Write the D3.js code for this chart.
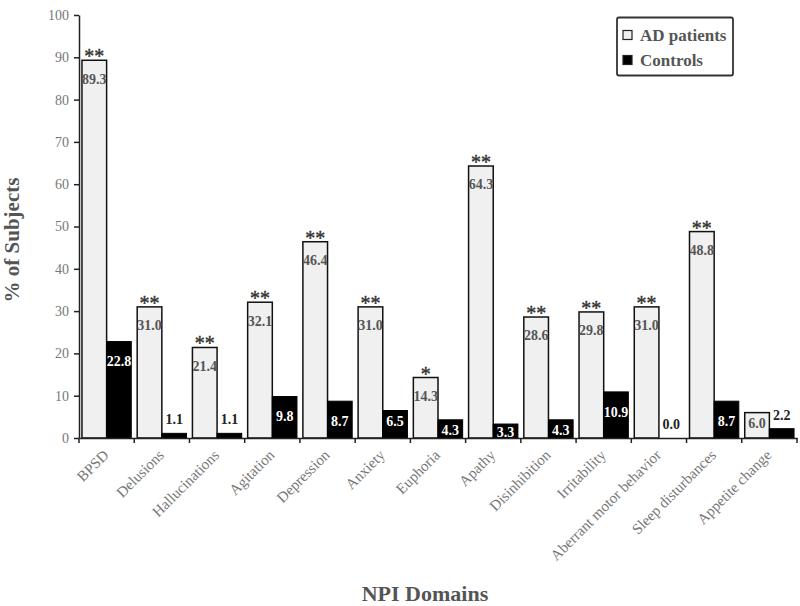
<!DOCTYPE html>
<html><head><meta charset="utf-8">
<script src="https://cdn.jsdelivr.net/npm/d3@7"></script>
<style>
body{margin:0;background:#fff;}
svg{display:block;font-family:"Liberation Serif","Times New Roman",serif;}
</style></head>
<body><svg id="chart" width="800" height="606"></svg>
<script>
const categories = ["BPSD","Delusions","Hallucinations","Agitation","Depression","Anxiety","Euphoria","Apathy","Disinhibition","Irritability","Aberrant motor behavior","Sleep disturbances","Appetite change"];
const adPatients = [89.3,31.0,21.4,32.1,46.4,31.0,14.3,64.3,28.6,29.8,31.0,48.8,6.0];
const controls = [22.8,1.1,1.1,9.8,8.7,6.5,4.3,3.3,4.3,10.9,0.0,8.7,2.2];
const significance = ["**","**","**","**","**","**","*","**","**","**","**","**",""];
const yTicks = [0,10,20,30,40,50,60,70,80,90,100];
const seriesNames = ["AD patients","Controls"];

const svg = d3.select("#chart");
const mLeft = 79, mRight = 797, mTop = 15, mBottom = 438;

const x = d3.scaleBand().domain(categories).range([mLeft, mRight]).padding(0);
const xs = d3.scaleBand().domain(seriesNames).range([0, x.bandwidth()]).paddingInner(0).paddingOuter(0.12);
const y = d3.scaleLinear().domain([0,100]).range([mBottom, mTop]);

const g = svg.append("g");
const labelY = (top, off) => Math.min(Math.max(top + 10, Math.min(top + off, 421)), 432);

categories.forEach((c,i)=>{
  const xa = x(c) + xs("AD patients"), xc = x(c) + xs("Controls"), w = xs.bandwidth();
  g.append("rect").attr("x", xa).attr("y", y(adPatients[i])).attr("width", w).attr("height", y(0)-y(adPatients[i]))
    .attr("fill","#f0f0f0").attr("stroke","#111").attr("stroke-width",1.5);
  g.append("rect").attr("x", xc).attr("y", y(controls[i])).attr("width", w).attr("height", y(0)-y(controls[i]))
    .attr("fill","#000").attr("stroke","#000").attr("stroke-width",1);
  g.append("text").attr("x", xa + w/2).attr("y", labelY(y(adPatients[i]), 18.5)).attr("dy","0.35em").attr("text-anchor","middle")
    .attr("font-size",14).attr("font-weight","bold").attr("fill","#555").text(adPatients[i].toFixed(1));
  g.append("text").attr("x", xa + w/2).attr("y", y(adPatients[i]) + 3).attr("text-anchor","middle")
    .attr("font-size",20).attr("fill","#333").attr("stroke","#333").attr("stroke-width",0.4).text(significance[i]);
  const v = controls[i];
  if (v >= 3) {
    g.append("text").attr("x", xc + w/2).attr("y", labelY(y(v), 20)).attr("dy","0.35em").attr("text-anchor","middle")
      .attr("font-size",14).attr("font-weight","bold").attr("fill","#fff").text(v.toFixed(1));
  } else {
    g.append("text").attr("x", xc + w/2).attr("y", y(v) - 9).attr("text-anchor","middle")
      .attr("font-size",14).attr("font-weight","bold").attr("fill","#222").text(v.toFixed(1));
  }
});

const yAxis = d3.axisLeft(y).tickValues(yTicks).tickSize(5).tickSizeOuter(0);
const yAx = svg.append("g").attr("transform",`translate(${mLeft},0)`).call(yAxis);
yAx.select(".domain").attr("stroke","#222").attr("stroke-width",1.5);
yAx.selectAll(".tick line").attr("stroke","#222").attr("stroke-width",1.5);
yAx.selectAll(".tick text").attr("font-family","Liberation Serif").attr("font-size",14).attr("fill","#777").attr("x",-10);

const xAxis = d3.axisBottom(x).tickSize(0).tickFormat("");
const xAx = svg.append("g").attr("transform",`translate(0,${mBottom})`).call(xAxis);
xAx.select(".domain").attr("stroke","#222").attr("stroke-width",1.5);
xAx.selectAll(".tick").remove();
const bounds = categories.map(c=>x(c)).concat([mRight]);
xAx.selectAll("line.bt").data(bounds).enter().append("line").attr("class","bt")
  .attr("x1",d=>d).attr("x2",d=>d).attr("y1",0).attr("y2",5).attr("stroke","#222").attr("stroke-width",1.5);

svg.append("g").selectAll("text").data(categories).enter().append("text")
  .attr("transform", d=>`translate(${x(d)+x.bandwidth()/2+3},${mBottom+18}) rotate(-45)`)
  .attr("text-anchor","end").attr("font-size",15).attr("fill","#777").text(d=>d);

svg.append("text").attr("transform",`translate(19,240) rotate(-90)`).attr("text-anchor","middle")
  .attr("font-size",21).attr("font-weight","bold").attr("fill","#555").text("% of Subjects");
svg.append("text").attr("x",425).attr("y",601).attr("text-anchor","middle")
  .attr("font-size",22).attr("font-weight","bold").attr("fill","#555").text("NPI Domains");

const lg = svg.append("g");
lg.append("rect").attr("x",617).attr("y",17.5).attr("width",116).attr("height",58).attr("rx",2)
  .attr("fill","#fff").attr("stroke","#333").attr("stroke-width",1.8);
const fills = ["#f0f0f0","#000"];
seriesNames.forEach((s,i)=>{
  const cy = 35 + i*25;
  lg.append("rect").attr("x",623).attr("y",cy-4.5).attr("width",9).attr("height",9)
    .attr("fill",fills[i]).attr("stroke","#222").attr("stroke-width",1.2);
  lg.append("text").attr("x",640).attr("y",cy).attr("dy","0.35em").attr("font-size",17).attr("font-weight","bold")
    .attr("fill","#555").text(s);
});
</script></body></html>
